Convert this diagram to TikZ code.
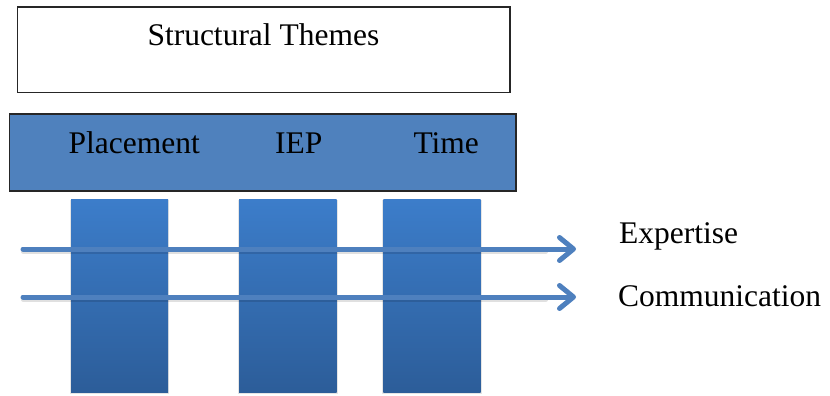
\documentclass[tikz,border=0pt]{standalone}
\usepackage{fontspec}
\setmainfont{Liberation Serif}
\usetikzlibrary{arrows.meta}
\definecolor{boxblue}{RGB}{79,129,189}
\definecolor{bartop}{RGB}{60,125,202}
\definecolor{barbot}{RGB}{44,93,153}
\definecolor{arrowblue}{RGB}{78,128,190}
\tikzset{
  frame/.style={draw=black!85, line width=1.6pt, inner sep=0pt},
  lbl/.style={inner sep=0pt, anchor=base west, font=\rmfamily\fontsize{31.5}{36}\selectfont, text=black},
  barbox/.style={top color=bartop, bottom color=barbot, draw=none},
  flow/.style={draw=arrowblue, line width=5pt, line cap=round,
    -{Straight Barb[length=14pt,width=23pt,line cap=round,line join=round]}},
  flowshadow/.style={draw=black, opacity=0.12, line width=4pt, line cap=round},
}
\begin{document}
\begin{tikzpicture}[x=1pt,y=-1pt]
\useasboundingbox (0,0) rectangle (830,396);
% top box
\draw[frame, fill=white] (17.5,7.3) rectangle (510,92.3);
\node[lbl] (st) at (147.3,46) {Structural Themes};
% blue box
\draw[frame, fill=boxblue] (9.5,114) rectangle (516,190.7);
\node[lbl] (pl) at (68.5,153) {Placement};
\node[lbl] (iep) at (275,153) {IEP};
\node[lbl] (tm) at (413.3,153) {Time};
% bars
\foreach \n/\a/\b in {1/71/168,2/239/336.7,3/383.3/480.7}{
  \fill[black,opacity=0.10] (\a-1,199.3+1) rectangle (\b+1,393.5);
  \shade[barbox] (\a,199.3) rectangle (\b,392.7);
  \coordinate (bar\n) at ({(\a+\b)/2},296);
}
% arrows
\coordinate (e1s) at (23,249);
\coordinate (e1e) at (576,249);
\coordinate (c1s) at (23,297);
\coordinate (c1e) at (576,297);
\draw[flowshadow] ([yshift=-2.5pt]e1s) -- ([yshift=-2.5pt,xshift=-30pt]e1e);
\draw[flowshadow] ([yshift=-2.5pt]c1s) -- ([yshift=-2.5pt,xshift=-30pt]c1e);
\draw[flow] (e1s) -- (e1e);
\draw[flow] (c1s) -- (c1e);
\node[lbl] (ex) at (619,243.3) {Expertise};
\node[lbl] (com) at (618,306) {Communication};
\end{tikzpicture}
\end{document}
